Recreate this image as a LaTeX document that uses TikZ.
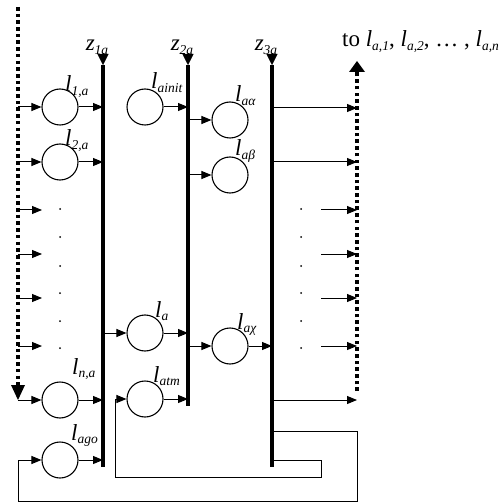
\documentclass[tikz,border=0pt]{standalone}
\usepackage{fontspec}
\setmainfont{Liberation Serif}
\usetikzlibrary{arrows.meta}

% italic variable with a smaller italic subscript
\newcommand{\lsub}[2]{\textit{#1}\raisebox{-0.3ex}{\fontsize{13.5}{13.5}\selectfont\itshape #2}}

\tikzset{
  flow/.style={-{Triangle[length=10pt,width=8pt]}, line width=1pt},
  wire/.style={line width=1pt},
  bus/.style={line width=3.6pt},
  unit/.style={circle, draw, line width=1.1pt, minimum size=36pt, inner sep=0pt},
  dots/.style={line width=4pt, dash pattern=on 3.6pt off 3.1pt},
  lbl/.style={font=\fontsize{23}{23}\selectfont, inner sep=0pt, anchor=base west},
  bushead/.style={-{Triangle[length=11pt,width=11pt]}, line width=0.4pt}
}

\begin{document}
\begin{tikzpicture}[x=1pt, y=-1pt]
\useasboundingbox (0,0) rectangle (500,502);

% bus bars
\coordinate (z1t) at (103,65); \coordinate (z1b) at (103,467);
\coordinate (z2t) at (188,65); \coordinate (z2b) at (188,406);
\coordinate (z3t) at (272,65); \coordinate (z3b) at (272,467);
\draw[bus] (z1t) -- (z1b);
\draw[bus] (z2t) -- (z2b);
\draw[bus] (z3t) -- (z3b);
\node[lbl, anchor=base] (z1) at (97,51)  {\lsub{z}{1a}};
\node[lbl, anchor=base] (z2) at (182,51) {\lsub{z}{2a}};
\node[lbl, anchor=base] (z3) at (266,51) {\lsub{z}{3a}};
\coordinate (z1h) at (103,53); \coordinate (z2h) at (188,53); \coordinate (z3h) at (272,53);
\draw[bushead] (z1h) -- (z1t);
\draw[bushead] (z2h) -- (z2t);
\draw[bushead] (z3h) -- (z3t);

% units
\node[unit] (c1a)   at (60,107) {};
\node[unit] (c2a)   at (60,162) {};
\node[unit] (cna)   at (60,400) {};
\node[unit] (cago)  at (60,460) {};
\node[unit] (cinit) at (145,107) {};
\node[unit] (ca)    at (145,333) {};
\node[unit] (catm)  at (145,399) {};
\node[unit] (calp)  at (230,120) {};
\node[unit] (cbet)  at (230,175) {};
\node[unit] (cchi)  at (230,346) {};

% unit labels
\node[lbl] (t1a)   at (65,92)   {\lsub{l}{1,a}};
\node[lbl] (t2a)   at (65,146)  {\lsub{l}{2,a}};
\node[lbl] (tna)   at (72,374)  {\lsub{l}{n,a}};
\node[lbl] (tago)  at (71,440)  {\lsub{l}{ago}};
\node[lbl] (tinit) at (151,89)  {\lsub{l}{ainit}};
\node[lbl] (ta)    at (155,317) {\lsub{l}{a}};
\node[lbl] (tatm)  at (153,382) {\lsub{l}{atm}};
\node[lbl] (talp)  at (235,102) {\lsub{l}{aα}};
\node[lbl] (tbet)  at (235,156) {\lsub{l}{aβ}};
\node[lbl] (tchi)  at (237,329) {\lsub{l}{aχ}};

% incoming bundle on the left
\coordinate (inTop) at (18,7);
\coordinate (inEnd) at (18,385);
\coordinate (inTip) at (18,400);
\draw[dots] (inTop) -- (inEnd);
\fill (11,385) -- (25,385) -- (inTip) -- cycle;

\draw[flow] (c1a.west -| inTop) -- (c1a.west);
\draw[flow] (c2a.west -| inTop) -- (c2a.west);
\draw[flow] (cna.west -| inTop) -- (cna.west);
\foreach \y in {210,254,298,346} {
  \draw[flow] (18,\y) -- (42,\y);
}

% outgoing bundle on the right
\coordinate (outBot) at (357,391);
\coordinate (outEnd) at (357,72);
\coordinate (outTip) at (357,61);
\draw[dots] (outBot) -- (outEnd);
\fill (349,72) -- (365,72) -- (outTip) -- cycle;
\node[font=\fontsize{23}{23}\selectfont, inner sep=0pt, anchor=base west] (dest) at (342,47)
  {to \lsub{l}{a,1}, \lsub{l}{a,2}, … , \lsub{l}{a,n}};

% units into the first bus
\draw[flow] (c1a.east)  -- (c1a.east -| z1t);
\draw[flow] (c2a.east)  -- (c2a.east -| z1t);
\draw[flow] (cna.east)  -- (cna.east -| z1t);
\draw[flow] (cago.east) -- (cago.east -| z1t);
\draw[flow] (ca.west -| z1t) -- (ca.west);

% second bus
\draw[flow] (cinit.east) -- (cinit.east -| z2t);
\draw[flow] (ca.east)    -- (ca.east -| z2t);
\draw[flow] (catm.east)  -- (catm.east -| z2t);
\draw[flow] (calp.west -| z2t) -- (calp.west);
\draw[flow] (cbet.west -| z2t) -- (cbet.west);
\draw[flow] (cchi.west -| z2t) -- (cchi.west);

% third bus
\draw[flow] (cchi.east) -- (cchi.east -| z3t);
\foreach \y in {108,162,400} {
  \draw[flow] (272,\y) -- (357,\y);
}
\foreach \y in {210,254,298,346} {
  \draw[flow] (321,\y) -- (357,\y);
}

% elided rows
\foreach \y in {209,237,266,293,321,348} {
  \fill (60,\y) circle (1);
  \fill (301,\y) circle (1);
}

% feedback loops
\draw[flow] (272,460) -| (321,477) -| (115,399) -- (catm.west);
\draw[flow] (272,431) -| (357,501) -| (18,460) -- (cago.west);
\end{tikzpicture}
\end{document}
